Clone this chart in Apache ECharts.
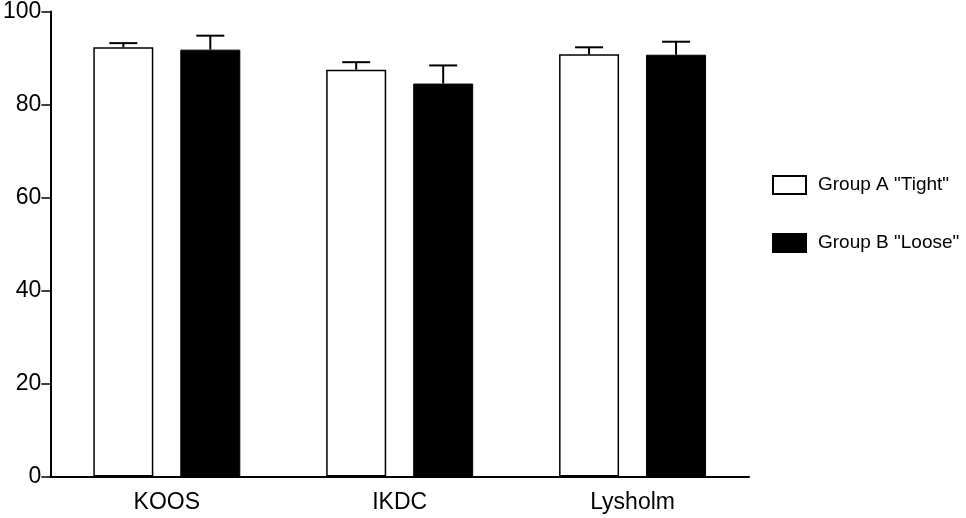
<!DOCTYPE html>
<html>
<head>
<meta charset="utf-8">
<script src="https://cdn.jsdelivr.net/npm/echarts@6/dist/echarts.min.js"></script>
<style>
  html, body { margin: 0; padding: 0; background: #fff; }
  #main { width: 966px; height: 518px; }
</style>
</head>
<body>
<div id="main"></div>
<script>
var categories = ['KOOS', 'IKDC', 'Lysholm'];
var groupA = [92.3, 87.5, 90.8];
var groupAErr = [0.9, 1.6, 1.5];
var groupB = [91.8, 84.5, 90.7];
var groupBErr = [3.0, 3.9, 2.8];
var yTicks = [0, 20, 40, 60, 80, 100];

var BAR_W = 60;
var BAR_GAP = 27;
var font = 'Liberation Sans, Arial, sans-serif';

// error bar data: [categoryIndex, mean, upper]
function errData(vals, errs) {
    return vals.map(function (v, i) { return [i, v, v + errs[i]]; });
}

function errRender(offset) {
    return function (params, api) {
        var base = api.coord([api.value(0), api.value(1)]);
        var up = api.coord([api.value(0), api.value(2)]);
        var x = base[0] + offset;
        var half = 14;
        var st = { stroke: '#000', lineWidth: 2 };
        return {
            type: 'group',
            children: [
                { type: 'line', shape: { x1: x, y1: base[1], x2: x, y2: up[1] }, style: st },
                { type: 'line', shape: { x1: x - half, y1: up[1], x2: x + half, y2: up[1] }, style: st }
            ]
        };
    };
}

var chart = echarts.init(document.getElementById('main'));
var off = (BAR_W + BAR_GAP) / 2;

chart.setOption({
    animation: false,
    backgroundColor: '#fff',
    grid: { left: 46, right: 217, top: 10, bottom: 41.5 },
    legend: {
        orient: 'vertical',
        left: 772,
        top: 175,
        padding: 0,
        itemWidth: 33,
        itemHeight: 18,
        itemGap: 38,
        icon: 'rect',
        data: ['Group A "Tight"', 'Group B "Loose"'],
        textStyle: { fontFamily: font, fontSize: 19, color: '#000', padding: [0, 0, 0, 7] }
    },
    xAxis: {
        type: 'category',
        data: categories,
        axisLine: { lineStyle: { color: '#000', width: 2 } },
        axisTick: { alignWithLabel: true, length: 6, lineStyle: { color: '#000', width: 1.5 } },
        axisLabel: { fontFamily: font, fontSize: 23, color: '#000', margin: 15 }
    },
    yAxis: {
        type: 'value',
        min: 0,
        max: 100,
        interval: 20,
        splitLine: { show: false },
        axisLine: { show: true, lineStyle: { color: '#000', width: 2 } },
        axisTick: { show: true, length: 9, lineStyle: { color: '#000', width: 1.5 } },
        axisLabel: {
            fontFamily: font, fontSize: 23, color: '#000', margin: 9,
            formatter: function (v) { return yTicks.indexOf(v) >= 0 ? String(v) : ''; }
        }
    },
    series: [
        {
            name: 'Group A "Tight"',
            type: 'bar',
            data: groupA,
            barWidth: BAR_W,
            barGap: (BAR_GAP / BAR_W * 100) + '%',
            itemStyle: { color: '#fff', borderColor: '#000', borderWidth: 1.5 }
        },
        {
            name: 'Group B "Loose"',
            type: 'bar',
            data: groupB,
            barWidth: BAR_W,
            itemStyle: { color: '#000', borderColor: '#000', borderWidth: 1 }
        },
        {
            name: 'errA',
            type: 'custom',
            renderItem: errRender(-off),
            data: errData(groupA, groupAErr),
            encode: { x: 0, y: [1, 2] },
            z: 1
        },
        {
            name: 'errB',
            type: 'custom',
            renderItem: errRender(off),
            data: errData(groupB, groupBErr),
            encode: { x: 0, y: [1, 2] },
            z: 1
        }
    ]
});
</script>
</body>
</html>
